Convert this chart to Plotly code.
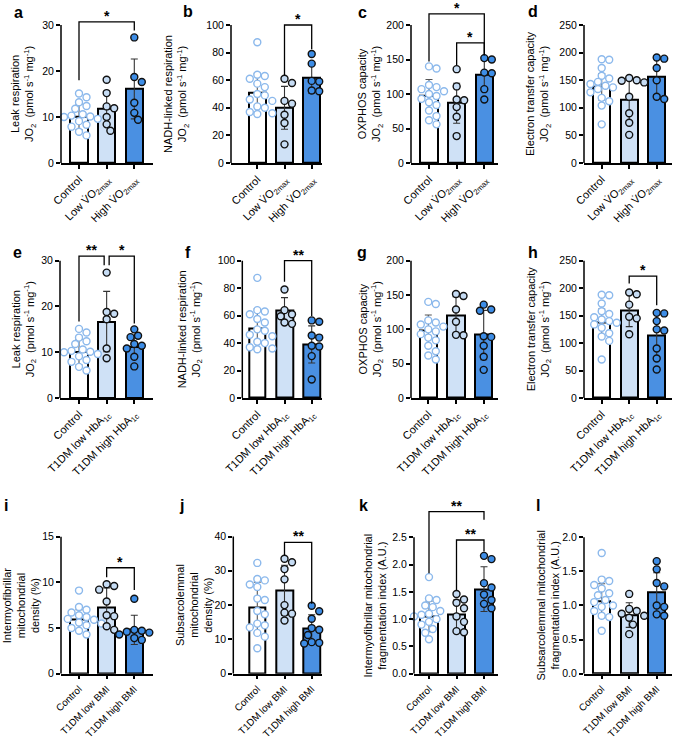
import plotly.graph_objects as go

W, H = 677, 739

# ---------------- category labels ----------------
cats_vo2 = ["Control", "Low V\u0307O<sub>2max</sub>", "High V\u0307O<sub>2max</sub>"]
cats_hba = ["Control", "T1DM low HbA<sub>1c</sub>", "T1DM high HbA<sub>1c</sub>"]
cats_bmi = ["Control", "T1DM low BMI", "T1DM high BMI"]

# ---------------- individual values ----------------
ctrl_leak = [15.1, 14.3, 13.2, 12.4, 11.8, 10.6, 10.3, 10.1, 10.0, 9.6, 9.1, 8.3, 7.9, 6.8, 6.0]
ctrl_nadh = [87.5, 64, 63, 61, 57.5, 55, 50, 49, 46, 45, 41, 40, 37, 36, 35.5]
ctrl_oxphos = [140, 137, 113, 110, 107, 104, 100, 97, 93, 88, 84, 76, 68, 62, 56]
ctrl_et = [188, 187, 172, 158, 153, 147, 143, 140, 137, 134, 128, 118, 112, 104, 70]

low_vo2_leak = [18.1, 15.2, 12.3, 11.9, 10.0, 8.4, 7.0]
high_vo2_leak = [27.3, 18.7, 17.6, 13.1, 10.9, 9.4]
low_vo2_nadh = [61, 58, 45, 43, 35, 29, 13.5]
high_vo2_nadh = [79, 72, 59.5, 59, 52.5, 52]
low_vo2_oxphos = [136, 111, 92, 91, 81, 67, 39]
high_vo2_oxphos = [152, 150, 131, 130, 107, 92]
low_vo2_et = [154, 150, 149, 146, 120, 90, 73, 51]
high_vo2_et = [191, 189, 172, 150, 120, 116]

low_hba_leak = [27.4, 18.8, 18.4, 17.2, 10.8, 8.7]
high_hba_leak = [15.0, 13.6, 13.3, 11.8, 11.4, 10.8, 9.0, 6.9]
low_hba_nadh = [79, 64, 61, 59.5, 55, 54]
high_hba_nadh = [56.5, 55.5, 45.5, 44, 38, 37.5, 30.5, 13.5]
low_hba_oxphos = [151.5, 148.5, 129, 111, 92, 91.5]
high_hba_oxphos = [136, 129, 127, 90, 89, 76, 60, 41]
low_hba_et = [192, 189, 170, 148, 145, 116]
high_hba_et = [155, 154, 140, 125, 123, 90, 72, 52]

ctrl_ifd = [9.1, 7.3, 7.0, 6.7, 6.4, 6.2, 6.0, 5.9, 5.8, 5.6, 5.5, 5.3, 5.0, 4.7, 4.3]
low_bmi_ifd = [9.8, 9.6, 9.2, 7.9, 6.4, 6.3, 5.2, 4.8]
high_bmi_ifd = [8.2, 4.8, 4.7, 4.6, 4.5, 4.3, 4.1, 3.9, 3.7]
ctrl_ssd = [32.3, 27.6, 27.2, 26.0, 25.3, 21.9, 21.5, 18.3, 17.3, 14.6, 14.1, 13.5, 11.9, 10.8, 7.4]
low_bmi_ssd = [33.5, 32.5, 30.5, 27.5, 20.0, 17.8, 17.5, 15.5]
high_bmi_ssd = [19.8, 18.2, 16.0, 13.3, 12.8, 11.3, 9.2, 9.0, 8.8]
ctrl_iff = [1.77, 1.38, 1.35, 1.25, 1.22, 1.15, 1.10, 1.08, 1.05, 1.00, 0.95, 0.90, 0.82, 0.75, 0.63]
low_bmi_iff = [1.46, 1.36, 1.30, 1.20, 1.05, 0.95, 0.78, 0.76]
high_bmi_iff = [2.16, 2.10, 1.66, 1.58, 1.45, 1.35, 1.28, 1.20]
ctrl_sff = [1.77, 1.38, 1.36, 1.30, 1.25, 1.18, 1.15, 1.08, 1.05, 1.00, 0.98, 0.92, 0.85, 0.83, 0.63]
low_bmi_sff = [1.17, 0.95, 0.92, 0.88, 0.85, 0.82, 0.72, 0.58]
high_bmi_sff = [1.65, 1.53, 1.33, 1.28, 1.00, 0.98, 0.87, 0.85]

# ---------------- bar means and SD ----------------
means_a = [10.0, 11.8, 16.1]; sds_a = [2.8, 3.4, 6.5]
means_b = [50.5, 40.0, 61.5]; sds_b = [14.5, 15.5, 11.0]
means_c = [98.0, 86.5, 127.5]; sds_c = [23.0, 29.0, 21.5]
means_d = [138.0, 115.0, 156.0]; sds_d = [24.0, 39.0, 33.0]
means_e = [10.0, 16.7, 11.2]; sds_e = [2.8, 6.6, 2.4]
means_f = [50.5, 63.6, 39.0]; sds_f = [14.5, 9.5, 13.5]
means_g = [98.0, 119.5, 91.7]; sds_g = [23.0, 28.0, 36.0]
means_h = [138.0, 160.0, 113.0]; sds_h = [24.0, 30.0, 39.0]
means_i = [5.9, 7.2, 4.8]; sds_i = [1.1, 2.2, 1.6]
means_j = [19.3, 24.3, 13.2]; sds_j = [7.4, 7.3, 4.0]
means_k = [1.05, 1.08, 1.55]; sds_k = [0.28, 0.27, 0.41]
means_l = [1.07, 0.86, 1.19]; sds_l = [0.25, 0.18, 0.29]

# ---------------- y ticks ----------------
ticks_30 = [0, 10, 20, 30]
ticks_100 = [0, 20, 40, 60, 80, 100]
ticks_200 = [0, 50, 100, 150, 200]
ticks_250 = [0, 50, 100, 150, 200, 250]
ticks_15 = [0, 5, 10, 15]
ticks_40 = [0, 10, 20, 30, 40]
ticks_25 = [0.0, 0.5, 1.0, 1.5, 2.0, 2.5]
ticks_20 = [0.0, 0.5, 1.0, 1.5, 2.0]

# ---------------- significance brackets: (group a, group b, top, left end, right end, label) ----------------
br_a = [(0, 2, 30.7, 18.0, 28.8, "*")]
br_b = [(1, 2, 100, 63.8, 82.4, "*")]
br_c = [(0, 2, 216, 147, 156, "*"), (1, 2, 174, 142, 156, "*")]
br_e = [(0, 0.91, 31.0, 16.7, 29.0, "**"), (1.09, 2, 31.0, 29.0, 16.3, "*")]
br_f = [(1, 2, 100, 84.7, 59.7, "**")]
br_h = [(1, 2, 222, 208.7, 169, "*")]
br_i = [(1, 2, 11.6, 10.55, 9.16, "*")]
br_j = [(1, 2, 38.3, 34.5, 20.4, "**")]
br_k = [(0, 2, 2.97, 1.84, 2.82, "**"), (1, 2, 2.45, 1.53, 2.24, "**")]

JO2 = "JO<sub>2</sub>\u00a0\u00a0(pmol s<sup>-1</sup> mg<sup>-1</sup>)"

panels = [
    dict(letter="a", title="Leak respiration<br>" + JO2, cats=cats_vo2,
         pts=[ctrl_leak, low_vo2_leak, high_vo2_leak], means=means_a, sds=sds_a, ticks=ticks_30, br=br_a),
    dict(letter="b", title="NADH-linked respiration<br>" + JO2, cats=cats_vo2,
         pts=[ctrl_nadh, low_vo2_nadh, high_vo2_nadh], means=means_b, sds=sds_b, ticks=ticks_100, br=br_b),
    dict(letter="c", title="OXPHOS capacity<br>" + JO2, cats=cats_vo2,
         pts=[ctrl_oxphos, low_vo2_oxphos, high_vo2_oxphos], means=means_c, sds=sds_c, ticks=ticks_200, br=br_c),
    dict(letter="d", title="Electron transfer capacity<br>" + JO2, cats=cats_vo2,
         pts=[ctrl_et, low_vo2_et, high_vo2_et], means=means_d, sds=sds_d, ticks=ticks_250, br=[]),
    dict(letter="e", title="Leak respiration<br>" + JO2, cats=cats_hba,
         pts=[ctrl_leak, low_hba_leak, high_hba_leak], means=means_e, sds=sds_e, ticks=ticks_30, br=br_e),
    dict(letter="f", title="NADH-linked respiration<br>" + JO2, cats=cats_hba,
         pts=[ctrl_nadh, low_hba_nadh, high_hba_nadh], means=means_f, sds=sds_f, ticks=ticks_100, br=br_f),
    dict(letter="g", title="OXPHOS capacity<br>" + JO2, cats=cats_hba,
         pts=[ctrl_oxphos, low_hba_oxphos, high_hba_oxphos], means=means_g, sds=sds_g, ticks=ticks_200, br=[]),
    dict(letter="h", title="Electron transfer capacity<br>" + JO2, cats=cats_hba,
         pts=[ctrl_et, low_hba_et, high_hba_et], means=means_h, sds=sds_h, ticks=ticks_250, br=br_h),
    dict(letter="i", title="Intermyofibrillar<br>mitochondrial<br>density (%)", cats=cats_bmi,
         pts=[ctrl_ifd, low_bmi_ifd, high_bmi_ifd], means=means_i, sds=sds_i, ticks=ticks_15, br=br_i),
    dict(letter="j", title="Subsarcolemmal<br>mitochondrial<br>density (%)", cats=cats_bmi,
         pts=[ctrl_ssd, low_bmi_ssd, high_bmi_ssd], means=means_j, sds=sds_j, ticks=ticks_40, br=br_j),
    dict(letter="k", title="Intermyofibrillar mitochondrial<br>fragmentation index (A.U.)", cats=cats_bmi,
         pts=[ctrl_iff, low_bmi_iff, high_bmi_iff], means=means_k, sds=sds_k, ticks=ticks_25, br=br_k, dec=True),
    dict(letter="l", title="Subsarcolemmal mitochondrial<br>fragmentation index (A.U.)", cats=cats_bmi,
         pts=[ctrl_sff, low_bmi_sff, high_bmi_sff], means=means_l, sds=sds_l, ticks=ticks_20, br=[], dec=True),
]

# ---------------- layout geometry (pixels) ----------------
# (axis left, axis right, first bar centre, last bar centre, axis bottom, top tick)
geom = [
    (61, 153, 79, 134.3, 163, 25), (231, 322, 257.3, 311.7, 163, 25),
    (411, 498, 429, 484.3, 163, 25), (584, 671.7, 601.7, 656.7, 163, 25),
    (60, 152.7, 79, 134.3, 398, 260.7), (242.3, 321.7, 257.3, 311.7, 398, 260.7),
    (411, 498, 428.3, 483.7, 398, 260.7), (584, 671.7, 601.7, 656.7, 398, 260.7),
    (61, 153.3, 79, 134.3, 673.7, 536.7), (233.3, 321.7, 257.3, 311.7, 673.7, 536.5),
    (414, 498.3, 429, 484, 673.7, 537.3), (584, 671.7, 601.7, 656.7, 673.7, 537.3),
]
letter_pos = [(18, 13), (188, 12), (362, 13), (533, 12), (17, 252), (188, 252), (362, 252),
              (533, 252), (6, 505), (181, 505), (363, 505), (538, 505)]
title_x = [24, 177, 371, 539, 24, 190, 371, 539, 21, 194, 374, 547]
xtick_size = [11, 11, 11, 11, 11, 11, 11, 11, 9.8, 9.8, 9.8, 9.8]

BAR_FILL = ["#ffffff", "#cfe1f6", "#4a90e2"]
PT_FILL = ["#ffffff", "#c6dcf4", "#3d8de6"]
PT_LINE = ["#8cb9ec", "#111111", "#111111"]
ERR_COL = ["#555555", "#333333", "#333333"]
FONT = "Arial, Liberation Sans, sans-serif"
DIAM = 7.5
YTICK_SIZE = 10.5
TITLE_SIZE = 11


def swarm(vals, ppy, ppx):
    order = sorted(range(len(vals)), key=lambda i: -vals[i])
    placed = []
    offs = [0.0] * len(vals)
    cands = [0.0]
    for s in range(1, 12):
        cands += [s * DIAM / 2, -s * DIAM / 2]
    for i in order:
        y = vals[i] * ppy
        chosen = cands[-1]
        for c in cands:
            if all((c - px) ** 2 + (y - py) ** 2 >= (DIAM * 0.95) ** 2 for px, py in placed):
                chosen = c
                break
        placed.append((chosen, y))
        offs[i] = chosen / ppx
    return offs


fig = go.Figure()
layout = dict(width=W, height=H, margin=dict(l=0, r=0, t=0, b=0, autoexpand=False), autosize=False,
              paper_bgcolor="white", plot_bgcolor="white", showlegend=False,
              font=dict(family=FONT, size=YTICK_SIZE, color="black"))
shapes, annotations = [], []

for n, (p, g) in enumerate(zip(panels, geom), start=1):
    left, right, b0, b2, bottom, toptick = g
    xid = "x" if n == 1 else f"x{n}"
    yid = "y" if n == 1 else f"y{n}"
    ticktop = p["ticks"][-1]
    ppx = (b2 - b0) / 2.0
    ppy = (bottom - toptick) / ticktop
    xr = [-(b0 - left) / ppx, 2 + (right - b2) / ppx]
    ext = max([ticktop] + [b[2] for b in p["br"]]) + 0.03 * ticktop
    top_px = bottom - ext * ppy
    xdom = [left / W, right / W]
    ydom = [1 - bottom / H, 1 - top_px / H]
    dec = p.get("dec", False)
    ticktext = [f"{t:.1f}" if dec else f"{t:g}" for t in p["ticks"]]

    layout["xaxis" if n == 1 else f"xaxis{n}"] = dict(
        domain=xdom, range=xr, anchor=yid, showline=True, linecolor="black", linewidth=1.5,
        ticks="outside", ticklen=4, tickwidth=1.5, tickcolor="black", automargin=False,
        tickvals=[0, 1, 2], ticktext=p["cats"], tickangle=-45,
        tickfont=dict(size=xtick_size[n - 1], family=FONT, color="black"),
        showgrid=False, zeroline=False, fixedrange=True)
    layout["yaxis" if n == 1 else f"yaxis{n}"] = dict(
        domain=ydom, range=[0, ext], anchor=xid, showline=False, automargin=False,
        ticks="outside", ticklen=4, tickwidth=1.5, tickcolor="black",
        tickvals=p["ticks"], ticktext=ticktext,
        tickfont=dict(size=YTICK_SIZE, family=FONT, color="black"),
        showgrid=False, zeroline=False, fixedrange=True)

    for gi in range(3):
        fig.add_trace(go.Bar(
            x=[gi], y=[p["means"][gi]], width=0.62, xaxis=xid, yaxis=yid,
            marker=dict(color=BAR_FILL[gi], line=dict(color="black", width=2)),
            error_y=dict(type="data", array=[p["sds"][gi]], visible=True, color=ERR_COL[gi],
                         thickness=1.1, width=3.5),
            hoverinfo="skip"))

    for gi, vals in enumerate(p["pts"]):
        offs = swarm(vals, ppy, ppx)
        fig.add_trace(go.Scatter(
            x=[gi + o for o in offs], y=vals, mode="markers", xaxis=xid, yaxis=yid,
            cliponaxis=False, hoverinfo="skip",
            marker=dict(size=7, color=PT_FILL[gi], line=dict(color=PT_LINE[gi], width=1.4))))

    # y axis line up to the top tick
    shapes.append(dict(type="line", xref="paper", yref=yid, x0=left / W, x1=left / W,
                       y0=0, y1=ticktop, line=dict(color="black", width=1.5)))

    for (xa, xb, yt, yl, yr, lab) in p["br"]:
        shapes.append(dict(type="path", xref=xid, yref=yid,
                           path=f"M{xa},{yl} L{xa},{yt} L{xb},{yt} L{xb},{yr}",
                           line=dict(color="black", width=1.3)))
        annotations.append(dict(x=(xa + xb) / 2, y=yt, xref=xid, yref=yid, text=f"<b>{lab}</b>",
                                showarrow=False, yanchor="bottom", xanchor="center", yshift=-3,
                                borderpad=0,
                                font=dict(size=14, family=FONT, color="black")))

    lx, ly = letter_pos[n - 1]
    annotations.append(dict(x=lx / W, y=1 - ly / H, xref="paper", yref="paper",
                            text=f"<b>{p['letter']}</b>", showarrow=False,
                            xanchor="center", yanchor="middle",
                            font=dict(size=16, family=FONT, color="black")))
    annotations.append(dict(x=title_x[n - 1] / W, y=1 - ((bottom + toptick) / 2) / H,
                            xref="paper", yref="paper", text=p["title"], showarrow=False,
                            textangle=-90, xanchor="center", yanchor="middle", align="center",
                            font=dict(size=TITLE_SIZE, family=FONT, color="black")))

layout["shapes"] = shapes
layout["annotations"] = annotations
layout["bargap"] = 0
layout["barmode"] = "overlay"
fig.update_layout(**layout)
fig.write_html("out.html")
